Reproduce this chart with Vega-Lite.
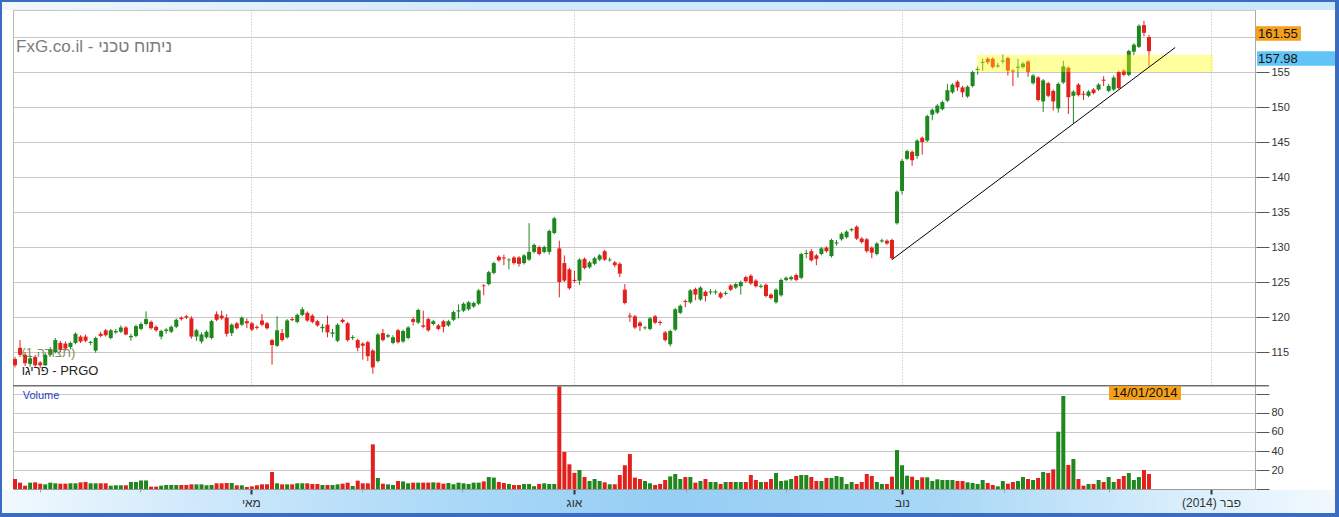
{
  "$schema": "https://vega.github.io/schema/vega-lite/v6.json",
  "padding": 0,
  "background": "#ffffff",
  "spacing": 0,
  "bounds": "flush",
  "config": {
    "font": "Liberation Sans",
    "view": {"stroke": null},
    "axis": {"labelFont": "Liberation Sans", "titleFont": "Liberation Sans", "labelOverlap": false, "labelSeparation": 0},
    "concat": {"spacing": 0}
  },
  "datasets": {
    "ohlc": [
      {"d":0,"o":114.0,"h":114.3,"l":112.8,"c":113.1,"v":10.5},
      {"d":1,"o":115.6,"h":116.7,"l":114.3,"c":114.6,"v":6.7},
      {"d":2,"o":114.6,"h":115.0,"l":113.0,"c":113.4,"v":3.5},
      {"d":3,"o":113.3,"h":114.5,"l":112.9,"c":114.1,"v":6.7},
      {"d":4,"o":114.3,"h":114.6,"l":112.9,"c":113.1,"v":7},
      {"d":5,"o":113.5,"h":113.7,"l":112.7,"c":113.1,"v":5.6},
      {"d":6,"o":113.1,"h":114.9,"l":113.0,"c":114.6,"v":4.9},
      {"d":7,"o":114.6,"h":115.7,"l":114.4,"c":115.4,"v":6.7},
      {"d":8,"o":115.0,"h":117.0,"l":114.8,"c":116.7,"v":6},
      {"d":9,"o":116.3,"h":116.6,"l":115.0,"c":115.3,"v":5.6},
      {"d":10,"o":116.2,"h":116.5,"l":115.2,"c":115.5,"v":5.6},
      {"d":11,"o":115.7,"h":116.5,"l":115.4,"c":116.3,"v":6},
      {"d":12,"o":116.3,"h":117.8,"l":116.1,"c":117.6,"v":6},
      {"d":13,"o":117.2,"h":117.4,"l":116.3,"c":116.5,"v":7},
      {"d":14,"o":117.2,"h":117.5,"l":116.4,"c":116.6,"v":7.4},
      {"d":15,"o":116.3,"h":116.6,"l":116.0,"c":116.45,"v":6},
      {"d":16,"o":115.2,"h":117.2,"l":114.9,"c":117.0,"v":6},
      {"d":17,"o":117.6,"h":117.9,"l":117.1,"c":117.3,"v":6},
      {"d":18,"o":118.1,"h":118.3,"l":117.2,"c":117.4,"v":6},
      {"d":19,"o":117.0,"h":118.3,"l":116.8,"c":118.1,"v":3.5},
      {"d":20,"o":117.8,"h":118.3,"l":117.6,"c":118.0,"v":3.9},
      {"d":21,"o":117.9,"h":118.8,"l":117.7,"c":118.5,"v":3.9},
      {"d":22,"o":118.5,"h":118.7,"l":117.4,"c":117.5,"v":3.9},
      {"d":23,"o":117.1,"h":117.6,"l":116.6,"c":117.3,"v":7.4},
      {"d":24,"o":117.3,"h":118.9,"l":117.1,"c":118.7,"v":7.4},
      {"d":25,"o":118.3,"h":119.3,"l":118.1,"c":119.0,"v":9},
      {"d":26,"o":119.0,"h":120.8,"l":118.8,"c":119.7,"v":9},
      {"d":27,"o":119.3,"h":119.5,"l":118.2,"c":118.4,"v":2.5},
      {"d":28,"o":118.6,"h":118.8,"l":117.9,"c":118.1,"v":2.5},
      {"d":29,"o":117.2,"h":118.2,"l":116.8,"c":118.0,"v":3.5},
      {"d":30,"o":118.0,"h":118.4,"l":117.6,"c":118.2,"v":4.2},
      {"d":31,"o":117.9,"h":118.8,"l":117.7,"c":118.6,"v":4.2},
      {"d":32,"o":118.6,"h":119.8,"l":118.4,"c":119.6,"v":4.2},
      {"d":33,"o":119.9,"h":120.1,"l":119.5,"c":119.7,"v":4.2},
      {"d":34,"o":120.1,"h":120.3,"l":119.7,"c":119.9,"v":4.2},
      {"d":35,"o":119.8,"h":120.1,"l":116.9,"c":117.2,"v":4.9},
      {"d":36,"o":117.2,"h":118.3,"l":116.6,"c":118.1,"v":4.9},
      {"d":37,"o":116.5,"h":117.8,"l":116.2,"c":117.5,"v":4.9},
      {"d":38,"o":117.1,"h":118.1,"l":116.9,"c":117.9,"v":3.9},
      {"d":39,"o":117.0,"h":119.6,"l":116.8,"c":119.4,"v":4.2},
      {"d":40,"o":120.4,"h":120.8,"l":119.4,"c":119.6,"v":6},
      {"d":41,"o":120.2,"h":120.9,"l":119.6,"c":119.8,"v":6},
      {"d":42,"o":119.9,"h":120.4,"l":117.2,"c":117.6,"v":6.3},
      {"d":43,"o":117.7,"h":119.1,"l":117.3,"c":118.9,"v":6.3},
      {"d":44,"o":119.1,"h":119.3,"l":118.2,"c":118.4,"v":3.9},
      {"d":45,"o":118.9,"h":120.1,"l":118.7,"c":119.9,"v":3.9},
      {"d":46,"o":119.4,"h":119.8,"l":118.4,"c":119.1,"v":2.1},
      {"d":47,"o":119.1,"h":119.3,"l":118.0,"c":118.2,"v":2.8},
      {"d":48,"o":118.6,"h":118.8,"l":118.2,"c":118.45,"v":3.9},
      {"d":49,"o":119.5,"h":120.4,"l":118.7,"c":118.9,"v":4.9},
      {"d":50,"o":119.1,"h":119.3,"l":118.2,"c":118.4,"v":5},
      {"d":51,"o":116.7,"h":116.9,"l":113.2,"c":116.0,"v":17.9},
      {"d":52,"o":115.9,"h":120.1,"l":115.7,"c":118.1,"v":6},
      {"d":53,"o":117.7,"h":118.3,"l":116.5,"c":116.7,"v":4.9},
      {"d":54,"o":117.1,"h":119.7,"l":116.9,"c":119.5,"v":4.9},
      {"d":55,"o":119.7,"h":120.0,"l":119.4,"c":119.55,"v":4.9},
      {"d":56,"o":119.3,"h":120.5,"l":119.1,"c":120.3,"v":6},
      {"d":57,"o":120.3,"h":121.4,"l":120.1,"c":121.1,"v":6},
      {"d":58,"o":120.6,"h":120.8,"l":119.3,"c":119.5,"v":6},
      {"d":59,"o":120.2,"h":120.4,"l":119.1,"c":119.3,"v":5.3},
      {"d":60,"o":119.4,"h":119.6,"l":118.6,"c":118.8,"v":5.3},
      {"d":61,"o":118.4,"h":119.0,"l":117.8,"c":118.6,"v":4.2},
      {"d":62,"o":118.9,"h":120.2,"l":117.1,"c":117.8,"v":4.2},
      {"d":63,"o":117.6,"h":118.3,"l":117.1,"c":117.8,"v":4.2},
      {"d":64,"o":116.6,"h":119.1,"l":116.4,"c":118.9,"v":4.9},
      {"d":65,"o":119.6,"h":119.8,"l":119.1,"c":119.3,"v":5.6},
      {"d":66,"o":119.1,"h":119.3,"l":116.5,"c":116.7,"v":6.7},
      {"d":67,"o":117.0,"h":117.4,"l":116.7,"c":117.15,"v":3.2},
      {"d":68,"o":116.7,"h":116.9,"l":115.1,"c":115.6,"v":8.8},
      {"d":69,"o":116.2,"h":116.4,"l":113.9,"c":115.9,"v":6},
      {"d":70,"o":116.4,"h":116.6,"l":113.7,"c":114.4,"v":6},
      {"d":71,"o":115.2,"h":115.4,"l":111.9,"c":112.8,"v":47},
      {"d":72,"o":113.7,"h":117.7,"l":113.5,"c":117.5,"v":11.6},
      {"d":73,"o":117.7,"h":118.3,"l":116.5,"c":116.7,"v":5.6},
      {"d":74,"o":117.2,"h":117.6,"l":117.0,"c":117.4,"v":4.9},
      {"d":75,"o":116.3,"h":117.4,"l":116.1,"c":117.1,"v":4.2},
      {"d":76,"o":118.1,"h":118.3,"l":116.2,"c":116.4,"v":8.4},
      {"d":77,"o":116.5,"h":118.2,"l":116.3,"c":118.0,"v":8},
      {"d":78,"o":117.0,"h":118.7,"l":116.8,"c":118.5,"v":6},
      {"d":79,"o":119.7,"h":120.0,"l":118.8,"c":119.3,"v":6.7},
      {"d":80,"o":119.2,"h":121.2,"l":119.0,"c":121.0,"v":6.7},
      {"d":81,"o":118.8,"h":120.9,"l":118.4,"c":118.6,"v":6.7},
      {"d":82,"o":119.7,"h":119.9,"l":117.9,"c":118.1,"v":6.7},
      {"d":83,"o":119.0,"h":119.6,"l":118.8,"c":119.4,"v":7},
      {"d":84,"o":118.8,"h":119.0,"l":118.1,"c":118.3,"v":6.7},
      {"d":85,"o":119.4,"h":119.6,"l":117.8,"c":118.6,"v":5.6},
      {"d":86,"o":118.8,"h":119.6,"l":118.6,"c":119.4,"v":6.3},
      {"d":87,"o":119.6,"h":120.9,"l":119.4,"c":120.7,"v":5},
      {"d":88,"o":120.8,"h":121.8,"l":119.8,"c":120.95,"v":6.7},
      {"d":89,"o":120.9,"h":122.1,"l":120.7,"c":121.9,"v":6},
      {"d":90,"o":121.1,"h":122.3,"l":120.9,"c":122.1,"v":5.3},
      {"d":91,"o":121.5,"h":122.2,"l":121.3,"c":122.0,"v":6.7},
      {"d":92,"o":121.9,"h":124.0,"l":121.7,"c":123.8,"v":6.7},
      {"d":93,"o":124.5,"h":124.7,"l":123.1,"c":124.4,"v":8},
      {"d":94,"o":124.7,"h":126.6,"l":124.5,"c":126.4,"v":12.6},
      {"d":95,"o":126.3,"h":127.9,"l":126.1,"c":127.7,"v":12},
      {"d":96,"o":128.6,"h":128.8,"l":127.9,"c":128.1,"v":7.4},
      {"d":97,"o":128.5,"h":128.9,"l":127.4,"c":128.35,"v":6.3},
      {"d":98,"o":128.1,"h":128.4,"l":126.8,"c":128.2,"v":5.3},
      {"d":99,"o":128.5,"h":128.7,"l":127.5,"c":127.7,"v":4.2},
      {"d":100,"o":128.5,"h":128.7,"l":127.2,"c":127.6,"v":4.2},
      {"d":101,"o":127.7,"h":129.0,"l":127.5,"c":128.8,"v":5.3},
      {"d":102,"o":128.2,"h":133.4,"l":128.0,"c":129.3,"v":5.3},
      {"d":103,"o":129.3,"h":130.5,"l":129.1,"c":130.3,"v":3},
      {"d":104,"o":130.0,"h":130.2,"l":128.8,"c":129.0,"v":5.3},
      {"d":105,"o":129.3,"h":130.2,"l":129.1,"c":130.0,"v":6},
      {"d":106,"o":129.3,"h":132.5,"l":128.9,"c":132.3,"v":5.3},
      {"d":107,"o":132.0,"h":134.3,"l":131.8,"c":134.1,"v":5.3},
      {"d":108,"o":129.8,"h":130.9,"l":122.8,"c":125.0,"v":108},
      {"d":109,"o":127.7,"h":128.8,"l":125.0,"c":125.2,"v":39},
      {"d":110,"o":126.8,"h":127.0,"l":123.9,"c":124.1,"v":26},
      {"d":111,"o":125.3,"h":126.6,"l":124.9,"c":125.15,"v":17},
      {"d":112,"o":125.2,"h":128.4,"l":124.6,"c":128.2,"v":20},
      {"d":113,"o":128.3,"h":128.5,"l":126.8,"c":127.0,"v":12.6},
      {"d":114,"o":127.1,"h":128.0,"l":126.9,"c":127.8,"v":8.4},
      {"d":115,"o":127.6,"h":128.6,"l":127.4,"c":128.4,"v":10.5},
      {"d":116,"o":128.2,"h":129.0,"l":128.0,"c":128.8,"v":8.4},
      {"d":117,"o":129.4,"h":129.6,"l":128.0,"c":128.2,"v":7},
      {"d":118,"o":128.1,"h":128.5,"l":127.9,"c":128.2,"v":5},
      {"d":119,"o":127.8,"h":128.0,"l":127.1,"c":127.4,"v":5},
      {"d":120,"o":127.6,"h":127.8,"l":125.7,"c":126.2,"v":14.7},
      {"d":121,"o":123.9,"h":124.7,"l":121.8,"c":122.0,"v":25},
      {"d":122,"o":120.2,"h":120.6,"l":119.3,"c":120.05,"v":36.8},
      {"d":123,"o":120.1,"h":120.3,"l":118.3,"c":118.5,"v":12},
      {"d":124,"o":119.2,"h":119.4,"l":118.0,"c":118.7,"v":10.5},
      {"d":125,"o":118.4,"h":118.7,"l":118.2,"c":118.5,"v":8.4},
      {"d":126,"o":118.3,"h":120.0,"l":118.1,"c":119.8,"v":6},
      {"d":127,"o":120.1,"h":120.3,"l":119.0,"c":119.2,"v":4.2},
      {"d":128,"o":119.3,"h":119.5,"l":118.8,"c":119.15,"v":5.3},
      {"d":129,"o":117.8,"h":118.0,"l":116.5,"c":116.7,"v":9.5},
      {"d":130,"o":116.1,"h":118.2,"l":115.8,"c":118.0,"v":13.3},
      {"d":131,"o":118.2,"h":121.3,"l":118.0,"c":121.1,"v":15.8},
      {"d":132,"o":120.6,"h":121.8,"l":120.4,"c":121.6,"v":10.5},
      {"d":133,"o":122.3,"h":122.5,"l":121.4,"c":122.15,"v":12.6},
      {"d":134,"o":122.1,"h":124.0,"l":121.9,"c":123.8,"v":12.6},
      {"d":135,"o":124.0,"h":124.2,"l":122.4,"c":123.2,"v":6.7},
      {"d":136,"o":122.5,"h":124.4,"l":122.3,"c":124.2,"v":8.4},
      {"d":137,"o":123.6,"h":123.8,"l":122.2,"c":123.0,"v":10.5},
      {"d":138,"o":123.5,"h":124.0,"l":123.2,"c":123.65,"v":7.4},
      {"d":139,"o":123.5,"h":123.9,"l":123.2,"c":123.65,"v":7.4},
      {"d":140,"o":123.4,"h":123.6,"l":122.6,"c":122.8,"v":5.3},
      {"d":141,"o":123.3,"h":123.7,"l":123.1,"c":123.45,"v":7.4},
      {"d":142,"o":124.5,"h":124.7,"l":123.7,"c":123.9,"v":7.4},
      {"d":143,"o":124.2,"h":124.9,"l":124.0,"c":124.7,"v":7.4},
      {"d":144,"o":124.4,"h":125.2,"l":123.2,"c":125.0,"v":7.4},
      {"d":145,"o":125.7,"h":125.9,"l":124.9,"c":125.1,"v":7.4},
      {"d":146,"o":125.9,"h":126.1,"l":124.6,"c":124.8,"v":14.7},
      {"d":147,"o":125.2,"h":125.4,"l":124.2,"c":124.4,"v":9.5},
      {"d":148,"o":124.3,"h":124.7,"l":124.1,"c":124.45,"v":7.4},
      {"d":149,"o":124.6,"h":124.8,"l":122.8,"c":123.0,"v":7.4},
      {"d":150,"o":123.2,"h":123.4,"l":122.5,"c":122.7,"v":10.5},
      {"d":151,"o":122.1,"h":124.1,"l":121.9,"c":123.9,"v":16.8},
      {"d":152,"o":123.1,"h":125.5,"l":122.9,"c":125.3,"v":8.4},
      {"d":153,"o":125.3,"h":125.8,"l":125.1,"c":125.6,"v":9},
      {"d":154,"o":125.4,"h":125.9,"l":125.2,"c":125.7,"v":10.5},
      {"d":155,"o":126.0,"h":126.2,"l":125.1,"c":125.3,"v":13.7},
      {"d":156,"o":125.6,"h":129.2,"l":125.4,"c":129.0,"v":14.7},
      {"d":157,"o":129.0,"h":129.6,"l":128.4,"c":129.15,"v":14.7},
      {"d":158,"o":129.4,"h":129.7,"l":127.9,"c":128.1,"v":12.6},
      {"d":159,"o":128.8,"h":129.0,"l":127.4,"c":128.3,"v":8.4},
      {"d":160,"o":129.0,"h":130.0,"l":128.8,"c":129.8,"v":8.4},
      {"d":161,"o":129.9,"h":130.1,"l":129.2,"c":129.4,"v":11.6},
      {"d":162,"o":128.7,"h":131.2,"l":128.5,"c":131.0,"v":11.6},
      {"d":163,"o":130.5,"h":131.0,"l":130.2,"c":130.65,"v":13.7},
      {"d":164,"o":131.1,"h":132.1,"l":130.9,"c":131.9,"v":12.6},
      {"d":165,"o":131.4,"h":132.4,"l":131.2,"c":132.2,"v":5.3},
      {"d":166,"o":132.4,"h":132.7,"l":132.2,"c":132.55,"v":7.4},
      {"d":167,"o":132.9,"h":133.1,"l":131.0,"c":131.2,"v":5.3},
      {"d":168,"o":131.2,"h":131.4,"l":130.5,"c":130.7,"v":7.4},
      {"d":169,"o":131.1,"h":131.3,"l":129.2,"c":129.4,"v":15.8},
      {"d":170,"o":129.9,"h":130.1,"l":128.4,"c":129.2,"v":13.7},
      {"d":171,"o":129.0,"h":130.7,"l":128.8,"c":130.5,"v":7.4},
      {"d":172,"o":130.8,"h":131.2,"l":130.6,"c":130.95,"v":5.3},
      {"d":173,"o":130.9,"h":131.1,"l":130.3,"c":130.5,"v":5.3},
      {"d":174,"o":131.0,"h":131.2,"l":128.2,"c":128.4,"v":13},
      {"d":175,"o":133.4,"h":138.1,"l":133.2,"c":137.9,"v":41},
      {"d":176,"o":138.0,"h":142.6,"l":137.5,"c":142.3,"v":25},
      {"d":177,"o":142.6,"h":143.9,"l":142.4,"c":143.7,"v":14},
      {"d":178,"o":143.6,"h":143.8,"l":141.6,"c":142.4,"v":13},
      {"d":179,"o":143.0,"h":145.4,"l":142.6,"c":145.2,"v":9.5},
      {"d":180,"o":145.6,"h":145.8,"l":143.2,"c":145.0,"v":12.3},
      {"d":181,"o":145.2,"h":148.9,"l":145.0,"c":148.7,"v":12.3},
      {"d":182,"o":148.9,"h":149.8,"l":148.1,"c":149.6,"v":8.4},
      {"d":183,"o":149.2,"h":150.4,"l":149.0,"c":150.2,"v":10.2},
      {"d":184,"o":149.7,"h":150.9,"l":149.5,"c":150.7,"v":9.5},
      {"d":185,"o":150.9,"h":153.3,"l":150.7,"c":152.4,"v":9.5},
      {"d":186,"o":152.1,"h":153.4,"l":151.9,"c":153.2,"v":9.5},
      {"d":187,"o":153.6,"h":153.8,"l":152.3,"c":152.8,"v":8.4},
      {"d":188,"o":152.8,"h":153.0,"l":151.4,"c":152.1,"v":8.4},
      {"d":189,"o":151.5,"h":153.1,"l":151.3,"c":152.9,"v":7},
      {"d":190,"o":153.0,"h":155.2,"l":152.8,"c":155.0,"v":6.3},
      {"d":191,"o":155.3,"h":155.8,"l":154.6,"c":155.45,"v":5.3},
      {"d":192,"o":156.3,"h":156.9,"l":155.2,"c":156.45,"v":9.5},
      {"d":193,"o":156.9,"h":157.1,"l":156.1,"c":156.4,"v":6.3},
      {"d":194,"o":156.9,"h":157.1,"l":155.5,"c":155.7,"v":4.2},
      {"d":195,"o":155.8,"h":156.3,"l":155.6,"c":155.95,"v":2.8},
      {"d":196,"o":156.5,"h":157.5,"l":156.2,"c":156.65,"v":8.4},
      {"d":197,"o":157.0,"h":157.2,"l":154.5,"c":155.2,"v":5.6},
      {"d":198,"o":155.2,"h":155.4,"l":153.0,"c":155.05,"v":7.4},
      {"d":199,"o":155.6,"h":156.9,"l":154.2,"c":155.75,"v":8.4},
      {"d":200,"o":155.7,"h":156.4,"l":155.5,"c":156.2,"v":12.6},
      {"d":201,"o":156.5,"h":156.7,"l":154.3,"c":155.0,"v":10.5},
      {"d":202,"o":153.4,"h":154.7,"l":153.2,"c":154.5,"v":9.5},
      {"d":203,"o":154.2,"h":154.4,"l":150.8,"c":151.0,"v":11.6},
      {"d":204,"o":150.8,"h":154.0,"l":149.3,"c":153.8,"v":17.9},
      {"d":205,"o":153.4,"h":153.6,"l":151.4,"c":151.6,"v":16.8},
      {"d":206,"o":152.3,"h":152.5,"l":149.5,"c":150.8,"v":20.7},
      {"d":207,"o":149.8,"h":153.5,"l":149.2,"c":153.3,"v":60.3},
      {"d":208,"o":153.5,"h":156.6,"l":153.3,"c":155.8,"v":97.9},
      {"d":209,"o":155.6,"h":155.8,"l":149.0,"c":151.4,"v":25.3},
      {"d":210,"o":151.6,"h":152.4,"l":147.7,"c":152.2,"v":31.6},
      {"d":211,"o":153.2,"h":153.4,"l":151.5,"c":151.7,"v":10.5},
      {"d":212,"o":151.9,"h":152.3,"l":151.0,"c":151.75,"v":3.5},
      {"d":213,"o":151.6,"h":152.4,"l":151.4,"c":152.2,"v":5.3},
      {"d":214,"o":152.5,"h":152.7,"l":151.8,"c":152.0,"v":5.3},
      {"d":215,"o":152.5,"h":153.4,"l":152.3,"c":153.2,"v":9.5},
      {"d":216,"o":153.9,"h":154.4,"l":153.0,"c":153.75,"v":7.4},
      {"d":217,"o":152.3,"h":153.3,"l":152.1,"c":153.0,"v":12.6},
      {"d":218,"o":152.5,"h":154.5,"l":152.3,"c":154.2,"v":7.4},
      {"d":219,"o":155.0,"h":155.2,"l":152.5,"c":152.7,"v":10.5},
      {"d":220,"o":155.2,"h":155.4,"l":154.4,"c":154.6,"v":13.7},
      {"d":221,"o":154.6,"h":158.2,"l":154.4,"c":158.0,"v":16.8},
      {"d":222,"o":157.9,"h":159.1,"l":157.4,"c":158.9,"v":9.5},
      {"d":223,"o":158.6,"h":161.8,"l":158.4,"c":161.6,"v":12.6},
      {"d":224,"o":161.7,"h":162.3,"l":160.1,"c":160.6,"v":20},
      {"d":225,"o":160.0,"h":160.3,"l":155.8,"c":157.98,"v":15.8}
    ],
    "tags": [
      {"label": "161.55", "price": 161.55, "kind": "high"},
      {"label": "157.98", "price": 157.98, "kind": "last"}
    ],
    "zone": [{"start": 190.9, "end": 237.7, "low": 155, "high": 157.45}],
    "trend": [{"d": 174, "p": 128.2}, {"d": 230.2, "p": 158.5}],
    "dates": [{"label": "14/01/2014", "d": 225}]
  },
  "vconcat": [
    {
      "width": 1243,
      "height": 385,
      "layer": [
        {
          "data": {"values": [{"border": "left"}]},
          "mark": {"type": "rect", "fill": "#b8b8b8"},
          "encoding": {
            "x": {"datum": -0.397, "type": "quantitative",
              "scale": {"domain": [-0.397, 246.23], "nice": false, "zero": false, "padding": 0},
              "axis": {"values": [46.8, 110.9, 176, 237.3], "tickCount": 50, "grid": true, "gridDash": [1, 2], "gridColor": "#b5b5b5", "labels": false, "ticks": false, "domain": false, "title": null}},
            "x2": {"datum": -0.199},
            "y": {"datum": 110.286, "type": "quantitative",
              "scale": {"domain": [110.286, 165.286], "nice": false, "zero": false},
              "axis": {"orient": "right", "values": [115, 120, 125, 130, 135, 140, 145, 150, 155, 160], "tickCount": 50, "labelExpr": "datum.value == 160 ? '' : datum.label", "labelOverlap": false, "grid": true, "gridColor": "#c8c8c8", "tickSize": 13, "tickColor": "#555555", "domain": false, "labelColor": "#333333", "labelFontSize": 11, "labelPadding": 2, "title": null}},
            "y2": {"datum": 165.286}
          }
        },
        {
          "data": {"values": [{"border": "right"}]},
          "mark": {"type": "rect", "fill": "#a8a8a8"},
          "encoding": {
            "x": {"datum": 246.03, "type": "quantitative"},
            "x2": {"datum": 246.23},
            "y": {"datum": 110.286, "type": "quantitative"},
            "y2": {"datum": 165.286}
          }
        },
        {
          "data": {"name": "ohlc"},
          "mark": {"type": "rule", "strokeWidth": 1},
          "encoding": {
            "x": {"field": "d", "type": "quantitative"},
            "y": {"field": "l", "type": "quantitative"},
            "y2": {"field": "h"},
            "color": {"condition": {"test": "datum.c >= datum.o", "value": "#1e871e"}, "value": "#e2201c"}
          }
        },
        {
          "data": {"name": "ohlc"},
          "mark": {"type": "bar", "size": 4},
          "encoding": {
            "x": {"field": "d", "type": "quantitative"},
            "y": {"field": "o", "type": "quantitative"},
            "y2": {"field": "c"},
            "color": {"condition": {"test": "datum.c >= datum.o", "value": "#1e871e"}, "value": "#e2201c"}
          }
        },
        {
          "data": {"name": "zone"},
          "mark": {"type": "rect", "fill": "#ffff00", "opacity": 0.38},
          "encoding": {
            "x": {"field": "start", "type": "quantitative"},
            "x2": {"field": "end"},
            "y": {"field": "low", "type": "quantitative"},
            "y2": {"field": "high"}
          }
        },
        {
          "data": {"name": "trend"},
          "mark": {"type": "line", "color": "#000000", "strokeWidth": 1},
          "encoding": {
            "x": {"field": "d", "type": "quantitative"},
            "y": {"field": "p", "type": "quantitative"}
          }
        },
        {
          "data": {"values": [{"t": "FxG.co.il - ניתוח טכני"}]},
          "mark": {"type": "text", "align": "left", "baseline": "middle", "fontSize": 17, "color": "#7b7b7b"},
          "encoding": {
            "x": {"datum": 0.2, "type": "quantitative"},
            "y": {"datum": 158.6, "type": "quantitative"},
            "text": {"field": "t"}
          }
        },
        {
          "data": {"values": [{"t": "(1 תצורה)"}]},
          "mark": {"type": "text", "align": "left", "baseline": "middle", "fontSize": 13, "color": "#6b7d45", "opacity": 0.85},
          "encoding": {
            "x": {"datum": 1.29, "type": "quantitative"},
            "y": {"datum": 114.9, "type": "quantitative"},
            "text": {"field": "t"}
          }
        },
        {
          "data": {"values": [{"t": "פריגו - PRGO"}]},
          "mark": {"type": "text", "align": "left", "baseline": "middle", "fontSize": 13, "color": "#222222"},
          "encoding": {
            "x": {"datum": 1.33, "type": "quantitative"},
            "y": {"datum": 112.33, "type": "quantitative"},
            "text": {"field": "t"}
          }
        },
        {
          "data": {"name": "tags"},
          "transform": [{"filter": "datum.kind == 'high'"}],
          "mark": {"type": "rect", "fill": "#f5a01a", "y2Offset": 14.5},
          "encoding": {
            "x": {"datum": 246.23, "type": "quantitative"},
            "x2": {"datum": 255.16},
            "y": {"field": "price", "type": "quantitative"},
            "y2": {"field": "price"}
          }
        },
        {
          "data": {"name": "tags"},
          "transform": [{"filter": "datum.kind == 'last'"}],
          "mark": {"type": "rect", "fill": "#62c4f5", "y2Offset": 14.5},
          "encoding": {
            "x": {"datum": 246.43, "type": "quantitative"},
            "x2": {"datum": 262.3},
            "y": {"field": "price", "type": "quantitative"},
            "y2": {"field": "price"}
          }
        },
        {
          "data": {"name": "tags"},
          "mark": {"type": "text", "align": "left", "baseline": "top", "fontSize": 13, "color": "#111111", "yOffset": 1.5},
          "encoding": {
            "x": {"datum": 246.63, "type": "quantitative"},
            "y": {"field": "price", "type": "quantitative"},
            "text": {"field": "label"}
          }
        },
        {
          "data": {"values": [{"band": "top"}]},
          "mark": {"type": "rect", "fill": {"gradient": "linear", "x1": 0, "y1": 0, "x2": 1, "y2": 0, "stops": [{"offset": 0, "color": "#f0f8fe"}, {"offset": 0.35, "color": "#d2eafb"}, {"offset": 1, "color": "#cbe7fa"}]}},
          "encoding": {
            "x": {"datum": -2.976, "type": "quantitative"},
            "x2": {"datum": 262.7},
            "y": {"datum": 165.286, "type": "quantitative"},
            "y2": {"datum": 163.857}
          }
        },
        {
          "data": {"values": [{"band": "topline"}]},
          "mark": {"type": "rect", "fill": "#3a6cc4"},
          "encoding": {
            "x": {"datum": -2.976, "type": "quantitative"},
            "x2": {"datum": 262.7},
            "y": {"datum": 165.286, "type": "quantitative"},
            "y2": {"datum": 165.0}
          }
        },
        {
          "data": {"values": [{"line": "top"}]},
          "mark": {"type": "rule", "color": "#c4c4c4", "strokeWidth": 1},
          "encoding": {
            "x": {"datum": -0.397, "type": "quantitative"},
            "x2": {"datum": 246.23},
            "y": {"datum": 163.8, "type": "quantitative"}
          }
        },
        {
          "data": {"values": [{"side": "left"}]},
          "mark": {"type": "rect", "fill": "#3a6cc4"},
          "encoding": {
            "x": {"datum": -2.976, "type": "quantitative"},
            "x2": {"datum": -2.579},
            "y": {"datum": 110.286, "type": "quantitative"},
            "y2": {"datum": 165.286}
          }
        },
        {
          "data": {"values": [{"side": "right"}]},
          "mark": {"type": "rect", "fill": "#3a6cc4"},
          "encoding": {
            "x": {"datum": 261.91, "type": "quantitative"},
            "x2": {"datum": 262.7},
            "y": {"datum": 110.286, "type": "quantitative"},
            "y2": {"datum": 165.286}
          }
        }
      ]
    },
    {
      "width": 1243,
      "height": 132,
      "layer": [
        {
          "data": {"values": [{"border": "left"}]},
          "mark": {"type": "rect", "fill": "#b8b8b8"},
          "encoding": {
            "x": {"datum": -0.397, "type": "quantitative",
              "scale": {"domain": [-0.397, 246.23], "nice": false, "zero": false, "padding": 0},
              "axis": {"orient": "bottom", "offset": -28, "zindex": 1, "values": [4.96, 24.8, 46.8, 68.85, 88.7, 110.9, 133.1, 153, 176, 196.2, 217.06, 237.3], "tickCount": 50,
                "labelExpr": "datum.value == 46.8 ? 'מאי' : datum.value == 110.9 ? 'אוג' : datum.value == 176 ? 'נוב' : datum.value == 237.3 ? '(2014) פבר' : ''",
                "labelOverlap": false, "labelFlush": false, "labelFontSize": 12, "labelColor": "#333333", "labelPadding": 3,
                "tickSize": {"condition": {"test": "indexof([46.8, 110.9, 176, 237.3], datum.value) >= 0", "value": 5}, "value": 3},
                "tickColor": {"condition": {"test": "indexof([46.8, 110.9, 176, 237.3], datum.value) >= 0", "value": "#333333"}, "value": "#a0a0a0"},
                "tickWidth": {"condition": {"test": "indexof([46.8, 110.9, 176, 237.3], datum.value) >= 0", "value": 2}, "value": 1},
                "domainColor": "#9a9a9a", "grid": false, "title": null}},
            "x2": {"datum": -0.199},
            "y": {"datum": -29.47, "type": "quantitative",
              "scale": {"domain": [-29.47, 109.47], "nice": false, "zero": false},
              "axis": {"orient": "right", "values": [0, 20, 40, 60, 80, 100], "tickCount": 50, "labelExpr": "datum.value >= 20 && datum.value <= 80 ? datum.label : ''", "labelOverlap": false, "labelSeparation": 0, "grid": true, "gridColor": "#c8c8c8", "tickSize": 13, "tickColor": "#555555", "domain": false, "labelColor": "#333333", "labelFontSize": 11, "labelPadding": 2, "title": null}},
            "y2": {"datum": 109.47}
          }
        },
        {
          "data": {"values": [{"border": "right"}]},
          "mark": {"type": "rect", "fill": "#a8a8a8"},
          "encoding": {
            "x": {"datum": 246.03, "type": "quantitative"},
            "x2": {"datum": 246.23},
            "y": {"datum": -29.47, "type": "quantitative"},
            "y2": {"datum": 109.47}
          }
        },
        {
          "data": {"name": "ohlc"},
          "mark": {"type": "bar", "size": 4},
          "encoding": {
            "x": {"field": "d", "type": "quantitative"},
            "y": {"field": "v", "type": "quantitative"},
            "y2": {"datum": 0},
            "color": {"condition": {"test": "datum.c >= datum.o", "value": "#1e871e"}, "value": "#e2201c"}
          }
        },
        {
          "data": {"values": [{"band": "bottom"}]},
          "mark": {"type": "rect", "fill": {"gradient": "linear", "x1": 0, "y1": 0, "x2": 1, "y2": 0, "stops": [{"offset": 0, "color": "#f2f9fe"}, {"offset": 0.15, "color": "#cfe9fb"}, {"offset": 0.35, "color": "#a9d8f7"}, {"offset": 0.5, "color": "#96cef4"}, {"offset": 0.7, "color": "#a8d7f6"}, {"offset": 0.88, "color": "#d8eefc"}, {"offset": 1, "color": "#f2f9fe"}]}},
          "encoding": {
            "x": {"datum": -2.976, "type": "quantitative"},
            "x2": {"datum": 262.7},
            "y": {"datum": -1.05, "type": "quantitative"},
            "y2": {"datum": -25.26}
          }
        },
        {
          "data": {"values": [{"band": "bottomline"}]},
          "mark": {"type": "rect", "fill": "#3a6cc4"},
          "encoding": {
            "x": {"datum": -2.976, "type": "quantitative"},
            "x2": {"datum": 262.7},
            "y": {"datum": -25.26, "type": "quantitative"},
            "y2": {"datum": -29.47}
          }
        },
        {
          "data": {"values": [{"line": "separator"}]},
          "mark": {"type": "rect", "fill": "#707070"},
          "encoding": {
            "x": {"datum": -0.397, "type": "quantitative"},
            "x2": {"datum": 248.8},
            "y": {"datum": 109.47, "type": "quantitative"},
            "y2": {"datum": 107.9}
          }
        },
        {
          "data": {"values": [{"t": "Volume"}]},
          "mark": {"type": "text", "align": "left", "baseline": "middle", "fontSize": 11, "color": "#2b3fbf"},
          "encoding": {
            "x": {"datum": 1.53, "type": "quantitative"},
            "y": {"datum": 97.9, "type": "quantitative"},
            "text": {"field": "t"}
          }
        },
        {
          "data": {"name": "dates"},
          "mark": {"type": "rect", "fill": "#f5a01a"},
          "encoding": {
            "x": {"datum": 217.06, "type": "quantitative"},
            "x2": {"datum": 231.35},
            "y": {"datum": 108.4, "type": "quantitative"},
            "y2": {"datum": 93.7}
          }
        },
        {
          "data": {"name": "dates"},
          "mark": {"type": "text", "align": "center", "baseline": "middle", "fontSize": 13, "color": "#111111", "dx": -4},
          "encoding": {
            "x": {"field": "d", "type": "quantitative"},
            "y": {"datum": 101.05, "type": "quantitative"},
            "text": {"field": "label"}
          }
        },
        {
          "data": {"values": [{"side": "left"}]},
          "mark": {"type": "rect", "fill": "#3a6cc4"},
          "encoding": {
            "x": {"datum": -2.976, "type": "quantitative"},
            "x2": {"datum": -2.579},
            "y": {"datum": -29.47, "type": "quantitative"},
            "y2": {"datum": 109.47}
          }
        },
        {
          "data": {"values": [{"side": "right"}]},
          "mark": {"type": "rect", "fill": "#3a6cc4"},
          "encoding": {
            "x": {"datum": 261.91, "type": "quantitative"},
            "x2": {"datum": 262.7},
            "y": {"datum": -29.47, "type": "quantitative"},
            "y2": {"datum": 109.47}
          }
        }
      ]
    }
  ]
}
